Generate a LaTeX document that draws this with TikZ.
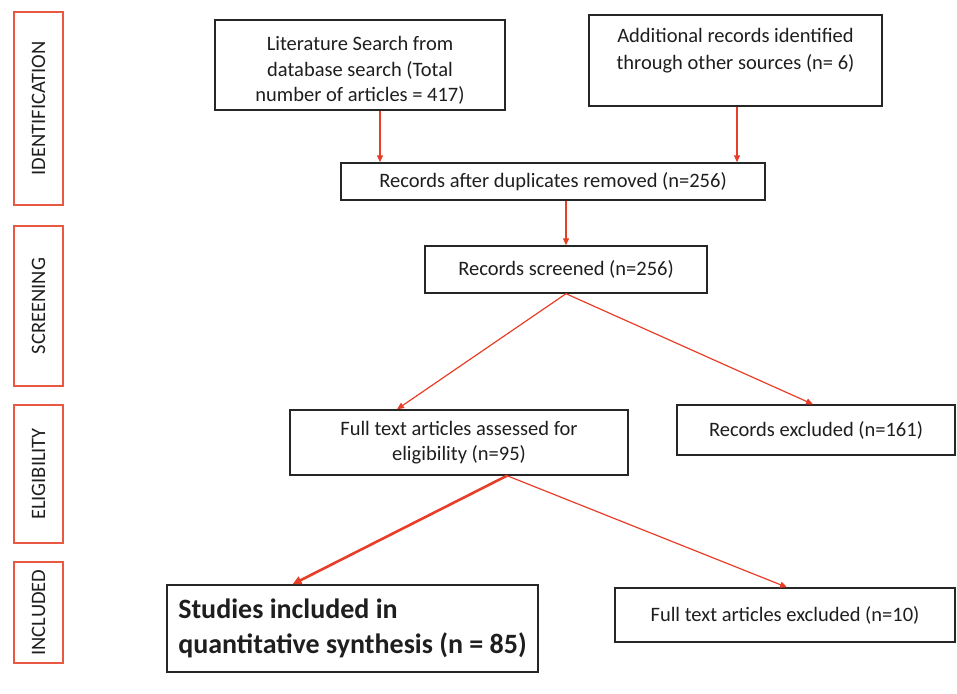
\documentclass[tikz,border=0pt]{standalone}
\usepackage{fontspec}
\setmainfont{Carlito}
\usetikzlibrary{arrows.meta,calc}
\definecolor{arrred}{RGB}{232,62,40}
\definecolor{sidered}{RGB}{232,88,66}
\definecolor{txt}{RGB}{30,30,30}
\tikzset{
  sidebox/.style={draw=sidered,line width=1.8pt,rotate=90,inner sep=0pt,font=\fontsize{20.5}{24}\selectfont,text=txt},
  mainbox/.style={draw=black!85,line width=1.4pt,inner sep=0pt,align=center,font=\fontsize{20.5}{25.5}\selectfont,text=txt},
  arr/.style={draw=arrred,line width=1.2pt,-{Triangle[length=7pt,width=6pt]}},
  thickarr/.style={draw=arrred,line width=2.6pt,-{Triangle[length=9pt,width=8pt]}}
}
\begin{document}
\begin{tikzpicture}[x=1pt,y=-1pt]
\useasboundingbox (0,0) rectangle (957,693);
% side boxes
\node[sidebox,minimum width=193,minimum height=49] (sid) at (38.5,108.5) {IDENTIFICATION};
\node[sidebox,minimum width=160,minimum height=49] (ssc) at (38.5,306) {SCREENING};
\node[sidebox,minimum width=138,minimum height=49] (sel) at (38.5,474) {ELIGIBILITY};
\node[sidebox,minimum width=101,minimum height=49] (sin) at (38.5,612.5) {INCLUDED};
% main boxes
\node[mainbox,minimum width=290,minimum height=90] (lit) at (360,65) {\rule{0pt}{25pt}Literature Search from\\database search (Total\\number of articles = 417)};
\node[mainbox,minimum width=293,minimum height=91,font=\fontsize{20.5}{27}\selectfont] (add) at (735.5,60.5) {Additional records identified\\through other sources (n= 6)\\[-12pt]\strut};
\node[mainbox,minimum width=424,minimum height=37] (dup) at (553,181.5) {Records after duplicates removed (n=256)};
\node[mainbox,minimum width=282,minimum height=47] (scr) at (566,269.5) {Records screened (n=256)};
\node[mainbox,minimum width=338,minimum height=65] (fta) at (459,442.5) {Full text articles assessed for\\eligibility (n=95)};
\node[mainbox,minimum width=278,minimum height=50] (rex) at (816,430) {Records excluded (n=161)};
\node[mainbox,minimum width=371,minimum height=87,font=\fontsize{28}{35}\bfseries\selectfont,align=left] (inc) at (352.5,628.5) {Studies included in\hspace*{118pt}\\quantitative synthesis (n = 85)};
\node[mainbox,minimum width=340,minimum height=54] (fex) at (785,615) {Full text articles excluded (n=10)};
% arrows
\draw[arr] ([xshift=20pt]lit.south) -- ([xshift=20pt]lit.south |- dup.north);
\draw[arr] ([xshift=1.5pt]add.south) -- ([xshift=1.5pt]add.south |- dup.north);
\draw[arr] (scr.north |- dup.south) -- (scr.north);
\draw[arr] (scr.south) -- ([xshift=-62pt]fta.north);
\draw[arr] (scr.south) -- ([xshift=-3pt]rex.north);
\draw[thickarr] ([xshift=48pt]fta.south) -- ([xshift=-60pt]inc.north);
\draw[arr] ([xshift=48pt]fta.south) -- ([xshift=2pt]fex.north);
\end{tikzpicture}
\end{document}
